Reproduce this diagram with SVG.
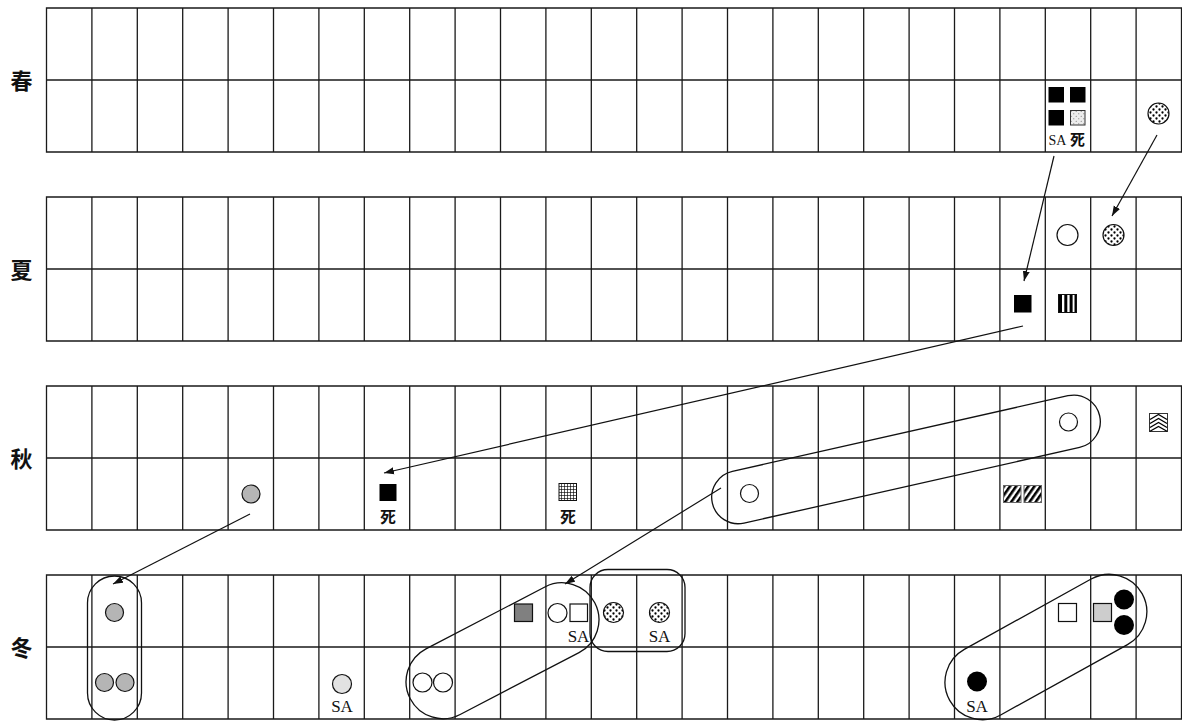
<svg xmlns="http://www.w3.org/2000/svg" xmlns:xlink="http://www.w3.org/1999/xlink" width="1182" height="722" viewBox="0 0 1182 722">
<style>
.grid{fill:none;stroke:#1a1a1a;stroke-width:1.3}
.season{font-family:"Noto Sans CJK SC","Noto Sans CJK JP",sans-serif;font-weight:bold;font-size:22px;text-anchor:middle;dominant-baseline:central;fill:#111}
.sa{font-family:"Liberation Serif",serif;font-size:17px;text-anchor:middle;fill:#111}
.sas{font-family:"Liberation Serif",serif;font-size:14px;fill:#111}
.si{font-family:"Noto Sans CJK SC","Noto Sans CJK JP",sans-serif;font-weight:bold;font-size:16px;text-anchor:middle;fill:#111}
.sis{font-family:"Noto Sans CJK SC","Noto Sans CJK JP",sans-serif;font-weight:bold;font-size:15px;fill:#111}
.sym{stroke:#111;stroke-width:1.2}
.wht{fill:#fff}
.blk{fill:#000}
.gry{fill:#b5b5b5}
.lgry{fill:#e2e2e2}
.dgry{fill:#808080}
.sgry{fill:#cdcdcd}
.dot{fill:url(#dots)}
.ring{fill:none;stroke:#111;stroke-width:1.3}
.arrow{fill:none;stroke:#111;stroke-width:1.2;marker-end:url(#ah)}
</style>
<defs>
<marker id="ah" markerUnits="userSpaceOnUse" markerWidth="11" markerHeight="8" refX="10" refY="4" orient="auto">
<path d="M0,0.5 L10,4 L0,7.5 Z" fill="#111"/>
</marker>
<pattern id="dots" width="6" height="6" patternUnits="userSpaceOnUse">
<rect width="6" height="6" fill="#fff"/>
<circle cx="1.5" cy="1.5" r="1.15" fill="#000"/>
<circle cx="4.5" cy="4.5" r="1.15" fill="#000"/>
</pattern>
<pattern id="dots2" width="5" height="5" patternUnits="userSpaceOnUse">
<rect width="5" height="5" fill="#ececec"/>
<circle cx="1.25" cy="1.25" r="0.6" fill="#777"/>
<circle cx="3.75" cy="3.75" r="0.6" fill="#777"/>
</pattern>
<pattern id="gridp" width="3" height="3" patternUnits="userSpaceOnUse">
<rect width="3" height="3" fill="#fff"/>
<path d="M0 0.4H3M0.4 0V3" stroke="#000" stroke-width="0.7"/>
</pattern>
<pattern id="hatch" width="5" height="5" patternUnits="userSpaceOnUse" patternTransform="rotate(35)">
<rect width="5" height="5" fill="#fff"/>
<rect width="2.6" height="5" fill="#000"/>
</pattern>
<path id="band" d="M46.5 0H1181.5V144H46.5ZM46.5 72H1181.5M91.9 0V144M137.3 0V144M182.7 0V144M228.1 0V144M273.5 0V144M318.9 0V144M364.3 0V144M409.7 0V144M455.1 0V144M500.5 0V144M545.9 0V144M591.3 0V144M636.7 0V144M682.1 0V144M727.5 0V144M772.9 0V144M818.3 0V144M863.7 0V144M909.1 0V144M954.5 0V144M999.9 0V144M1045.3 0V144M1090.7 0V144M1136.1 0V144"/>
</defs>
<rect width="1182" height="722" fill="#fff"/>

<g id="grid-spring"><use xlink:href="#band" href="#band" class="grid" transform="translate(0,8)"/><text class="season" x="21.5" y="79">春</text></g>
<g id="grid-summer"><use xlink:href="#band" href="#band" class="grid" transform="translate(0,197)"/><text class="season" x="21.5" y="268">夏</text></g>
<g id="grid-autumn"><use xlink:href="#band" href="#band" class="grid" transform="translate(0,386)"/><text class="season" x="21.5" y="457">秋</text></g>
<g id="grid-winter"><use xlink:href="#band" href="#band" class="grid" transform="translate(0,575)"/><text class="season" x="21.5" y="646">冬</text></g>

<!-- Spring -->
<g id="spring-squares">
<rect class="blk" x="1048.5" y="87" width="15.5" height="15.5"/>
<rect class="blk" x="1070" y="87" width="15.5" height="15.5"/>
<rect class="blk" x="1048.5" y="110" width="15.5" height="15.5"/>
<rect x="1070.5" y="110.5" width="14.5" height="14.5" fill="url(#dots2)" stroke="#333" stroke-width="1"/>
<text class="sas" x="1048.5" y="145">SA</text>
<text class="sis" x="1070" y="145">死</text>
</g>
<g id="spring-dotcircle"><circle class="dot sym" cx="1158.5" cy="113.5" r="10.5"/></g>

<!-- Summer -->
<g id="summer-circle"><circle class="wht sym" cx="1067.5" cy="235" r="10.5"/></g>
<g id="summer-dotcircle"><circle class="dot sym" cx="1113.5" cy="235" r="10.5"/></g>
<g id="summer-black"><rect class="blk" x="1014" y="295" width="17.5" height="17.5"/></g>
<g id="summer-stripes">
<rect x="1058.5" y="294.5" width="18" height="18" fill="#fff" stroke="#111" stroke-width="1"/>
<rect x="1059" y="295" width="3" height="17" fill="#000"/>
<rect x="1064.3" y="295" width="3" height="17" fill="#000"/>
<rect x="1069.6" y="295" width="3" height="17" fill="#000"/>
<rect x="1074.5" y="295" width="1.5" height="17" fill="#000"/>
</g>

<!-- Autumn -->
<g id="autumn-gray"><circle class="gry sym" cx="251" cy="494" r="9"/></g>
<g id="autumn-black"><rect class="blk" x="379.5" y="484" width="17" height="17"/><text class="si" x="388" y="523">死</text></g>
<g id="autumn-grid"><rect x="559" y="483.5" width="17.5" height="17" fill="url(#gridp)" stroke="#111" stroke-width="1"/><text class="si" x="568" y="523">死</text></g>
<g id="autumn-pair">
<rect class="ring" x="707.5" y="432.9" width="397" height="53" rx="26.5" transform="rotate(-12.7 906 459.4)"/>
<circle class="wht sym" cx="749.5" cy="493.5" r="9"/>
<circle class="wht sym" cx="1068.5" cy="422" r="9"/>
</g>
<g id="autumn-hatch">
<rect x="1003.5" y="485.5" width="17.5" height="17" fill="url(#hatch)" stroke="#666" stroke-width="1"/>
<rect x="1024" y="485.5" width="17.5" height="17" fill="url(#hatch)" stroke="#666" stroke-width="1"/>
</g>
<g id="autumn-chevron">
<rect x="1149.5" y="413.5" width="18" height="18" fill="#fff" stroke="#333" stroke-width="1"/>
<path d="M1150 419.5L1158.5 414.5L1167 419.5M1150 423.5L1158.5 418.5L1167 423.5M1150 427.5L1158.5 422.5L1167 427.5M1150 431.2L1158.5 426.5L1167 431.2" fill="none" stroke="#000" stroke-width="1.3"/>
</g>

<!-- Winter -->
<g id="winter-group1">
<rect class="ring" x="87.5" y="576" width="54" height="144" rx="27"/>
<circle class="gry sym" cx="114.5" cy="612.5" r="9"/>
<circle class="gry sym" cx="104.5" cy="682.5" r="9"/>
<circle class="gry sym" cx="125" cy="682.5" r="9"/>
</g>
<g id="winter-sa1"><circle class="lgry sym" cx="342" cy="684" r="9.5"/><text class="sa" x="342" y="712">SA</text></g>
<g id="winter-group2">
<rect class="ring" x="398.5" y="613.75" width="208" height="74" rx="37" transform="rotate(-27.5 502.5 650.75)"/>
<circle class="wht sym" cx="422.5" cy="682.5" r="9.5"/>
<circle class="wht sym" cx="443" cy="682.5" r="9.5"/>
<circle class="wht sym" cx="557.5" cy="613" r="9.5"/>
<rect class="wht sym" x="570" y="604" width="17.5" height="17.5"/>
<text class="sa" x="578.5" y="641.5">SA</text>
</g>
<g id="winter-darksq"><rect class="dgry sym" x="514.5" y="604" width="18" height="17.5"/></g>
<g id="winter-group3">
<rect class="ring" x="590" y="569.5" width="95" height="82" rx="18"/>
<circle class="dot sym" cx="613.5" cy="612.5" r="10"/>
<circle class="dot sym" cx="659.5" cy="612.5" r="10"/>
<text class="sa" x="659.5" y="641.5">SA</text>
</g>
<g id="winter-group4">
<rect class="ring" x="935.9" y="609.5" width="220" height="75" rx="37.5" transform="rotate(-29 1045.9 647)"/>
<circle class="blk" cx="977" cy="681.5" r="10"/>
<text class="sa" x="977" y="712">SA</text>
<rect class="wht sym" x="1058.5" y="603.5" width="18" height="18"/>
<rect class="sgry sym" x="1093.5" y="603.5" width="18" height="18"/>
<circle class="blk" cx="1124" cy="599.5" r="10"/>
<circle class="blk" cx="1124" cy="625" r="10"/>
</g>

<g id="connectors">
<line class="arrow" x1="1054" y1="156" x2="1024" y2="281"/>
<line class="arrow" x1="1157" y1="135" x2="1112" y2="216"/>
<line class="arrow" x1="1023" y1="326" x2="384" y2="473"/>
<line class="arrow" x1="721" y1="488" x2="565" y2="584"/>
<line class="arrow" x1="250" y1="514" x2="113" y2="584"/>
</g>
</svg>
